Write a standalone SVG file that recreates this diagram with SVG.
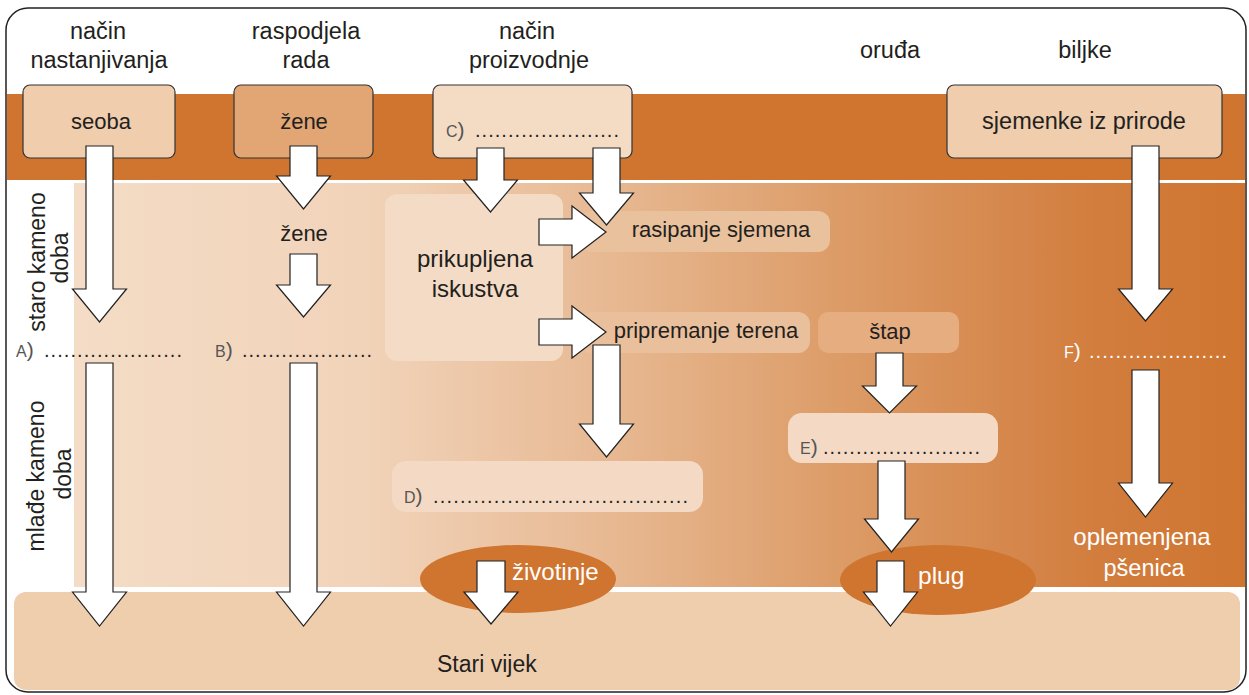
<svg xmlns="http://www.w3.org/2000/svg" width="1249" height="695" viewBox="0 0 1249 695">
<defs>
<linearGradient id="grad" gradientUnits="userSpaceOnUse" x1="74" y1="0" x2="1244" y2="0">
<stop offset="0" stop-color="#F4DCC6"/>
<stop offset="0.25" stop-color="#F1D3B9"/>
<stop offset="0.44" stop-color="#E8BB96"/>
<stop offset="0.68" stop-color="#DB9862"/>
<stop offset="0.875" stop-color="#D27D3E"/>
<stop offset="1" stop-color="#CF7530"/>
</linearGradient>
<style>
.t{font-family:"Liberation Sans",Arial,sans-serif;font-size:22px;fill:#231F20}
.h{font-size:23.5px}
.m{text-anchor:middle}
.lbl{font-family:"Liberation Sans",Arial,sans-serif;font-size:16px;fill:#555}
.dots{font-family:"Liberation Sans",Arial,sans-serif;font-size:20px;fill:#231F20}
.w{fill:#FFFFFF}
.box{stroke:#333;stroke-width:1.2}
.arr{fill:#FFFFFF;stroke:#222;stroke-width:1.2;stroke-linejoin:miter}
</style>
</defs>

<g id="background">
<rect x="6" y="8" width="1240" height="684" rx="22" fill="#FFFFFF" stroke="#222" stroke-width="1.5"/>
<rect x="7" y="94" width="1238" height="86" fill="#CF7530"/>
<rect x="74" y="183" width="1171" height="404" fill="url(#grad)"/>
<rect x="14" y="592" width="1226" height="98" rx="12" fill="#EFCEAE"/>
</g>

<g id="headers">
<text class="t h m" x="98" y="39">način</text>
<text class="t h m" x="99" y="68">nastanjivanja</text>
<text class="t h m" x="306" y="39">raspodjela</text>
<text class="t h m" x="306" y="68">rada</text>
<text class="t h m" x="527" y="39">način</text>
<text class="t h m" x="529" y="68">proizvodnje</text>
<text class="t h m" x="890" y="58">oruđa</text>
<text class="t h m" x="1085" y="58">biljke</text>
</g>

<g id="periods">
<text class="t m" transform="rotate(-90 45 262)" x="45" y="262" style="font-size:23px">staro kameno</text>
<text class="t m" transform="rotate(-90 68 258)" x="68" y="258" style="font-size:23px">doba</text>
<text class="t m" transform="rotate(-90 44 476)" x="44" y="476" style="font-size:23px">mlađe kameno</text>
<text class="t m" transform="rotate(-90 71 474)" x="71" y="474" style="font-size:23px">doba</text>
</g>

<g id="node-seoba">
<rect class="box" x="23" y="85" width="152" height="73" rx="7" fill="#EFCDAD"/>
<text class="t m" x="101" y="129">seoba</text>
</g>
<g id="node-zene-top">
<rect class="box" x="234" y="85" width="139" height="73" rx="7" fill="#E2A574"/>
<text class="t m" x="304" y="129">žene</text>
</g>
<g id="node-c">
<rect class="box" x="433" y="85" width="199" height="73" rx="7" fill="#F4DBC4"/>
<text class="lbl" x="446" y="137">C<tspan font-size="21">)</tspan></text>
<text class="dots" x="475" y="137" textLength="144" lengthAdjust="spacing">......................</text>
</g>
<g id="node-sjemenke">
<rect class="box" x="947" y="85" width="275" height="73" rx="7" fill="#EFCDAD"/>
<text class="t m" x="1084" y="129" style="font-size:23.5px">sjemenke iz prirode</text>
</g>

<g id="node-zene">
<text class="t m" x="304" y="241">žene</text>
</g>
<g id="node-a">
<text class="lbl" x="16" y="357">A<tspan font-size="21">)</tspan></text>
<text class="dots" x="44" y="357" textLength="138" lengthAdjust="spacing">.....................</text>
</g>
<g id="node-b">
<text class="lbl" x="215" y="357">B<tspan font-size="21">)</tspan></text>
<text class="dots" x="242" y="357" textLength="130" lengthAdjust="spacing">....................</text>
</g>

<g id="node-prikupljena">
<rect x="385" y="194" width="178" height="167" rx="12" fill="#F4DBC5"/>
<text class="t m" x="475" y="267" style="font-size:24px">prikupljena</text>
<text class="t m" x="475" y="297" style="font-size:24px">iskustva</text>
</g>
<g id="node-rasipanje">
<rect x="580" y="211" width="250" height="41" rx="12" fill="#EAC19D"/>
<text class="t m" x="721" y="237">rasipanje sjemena</text>
</g>
<g id="node-pripremanje">
<rect x="580" y="312" width="230" height="41" rx="12" fill="#EABF9B"/>
<text class="t m" x="706" y="338">pripremanje terena</text>
</g>
<g id="node-stap">
<rect x="818" y="312" width="141" height="41" rx="10" fill="#E6AD80"/>
<text class="t m" x="890" y="339">štap</text>
</g>
<g id="node-d">
<rect x="392" y="461" width="311" height="51" rx="14" fill="#F4DAC4"/>
<text class="lbl" x="404" y="503">D<tspan font-size="21">)</tspan></text>
<text class="dots" x="433" y="503" textLength="255" lengthAdjust="spacing">......................................</text>
</g>
<g id="node-e">
<rect x="788" y="413" width="210" height="50" rx="14" fill="#F4DAC4"/>
<text class="lbl" x="800" y="454">E<tspan font-size="21">)</tspan></text>
<text class="dots" x="823" y="454" textLength="157" lengthAdjust="spacing">........................</text>
</g>
<g id="node-f">
<text class="lbl w" x="1064" y="358">F<tspan font-size="21">)</tspan></text>
<text class="dots w" x="1089" y="358" textLength="138" lengthAdjust="spacing">.....................</text>
</g>
<g id="node-oplemenjena">
<text class="t m w" x="1142" y="545" style="font-size:24px">oplemenjena</text>
<text class="t m w" x="1144" y="576" style="font-size:23.5px">pšenica</text>
</g>
<g id="node-zivotinje">
<ellipse cx="518" cy="579" rx="98" ry="34" fill="#CF7530"/>
<text class="t w" x="512" y="580" style="font-size:24px">životinje</text>
</g>
<g id="node-plug">
<ellipse cx="938" cy="580" rx="98" ry="35" fill="#CF7530"/>
<text class="t w" x="918" y="584" style="font-size:24.5px">plug</text>
</g>
<g id="node-stari">
<text class="t" x="437" y="672" style="font-size:23px">Stari vijek</text>
</g>

<g id="connectors">
<path class="arr" d="M86,146 H113 V289 H126.5 L99.5,322 L72.5,289 H86 Z"/>
<path class="arr" d="M86,363 H113 V592 H126.5 L99.5,626 L72.5,592 H86 Z"/>
<path class="arr" d="M290,146 H317 V176 H330.5 L303.5,209 L276.5,176 H290 Z"/>
<path class="arr" d="M290,254 H317 V285 H330.5 L303.5,317 L276.5,285 H290 Z"/>
<path class="arr" d="M290,363 H317 V592 H330.5 L303.5,626 L276.5,592 H290 Z"/>
<path class="arr" d="M477,148 H504 V180 H517.5 L490.5,212 L463.5,180 H477 Z"/>
<path class="arr" d="M593,148 H620 V193 H633.5 L606.5,225 L579.5,193 H593 Z"/>
<path class="arr" d="M539,219 H572 V206 L606,232 L572,258 V245 H539 Z"/>
<path class="arr" d="M539,319 H572 V306 L606,332 L572,358 V345 H539 Z"/>
<path class="arr" d="M593,345 H620 V424 H633.5 L606.5,457 L579.5,424 H593 Z"/>
<path class="arr" d="M876,353 H903 V386 H916.5 L889.5,413 L862.5,386 H876 Z"/>
<path class="arr" d="M878,461 H905 V519 H918.5 L891.5,552 L864.5,519 H878 Z"/>
<path class="arr" d="M1132,146 H1159 V289 H1172.5 L1145.5,321 L1118.5,289 H1132 Z"/>
<path class="arr" d="M1132,370 H1159 V483 H1172.5 L1145.5,517 L1118.5,483 H1132 Z"/>
<path class="arr" d="M477,561 H505 V592 H518 L491,624 L464,592 H477 Z"/>
<path class="arr" d="M877,561 H904 V592 H917.5 L890.5,626 L863.5,592 H877 Z"/>
</g>
</svg>
